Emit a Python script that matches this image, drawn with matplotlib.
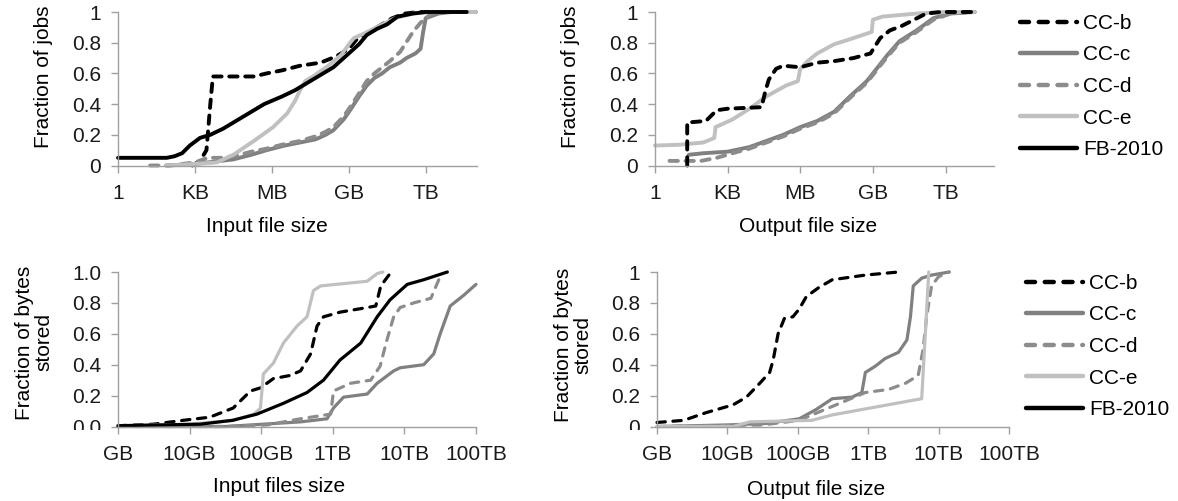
import numpy as np
import matplotlib.pyplot as plt
from matplotlib.lines import Line2D
from matplotlib.ticker import NullLocator
from matplotlib.transforms import Bbox, TransformedBbox

plt.rcParams['font.family'] = ['Liberation Sans', 'DejaVu Sans']
plt.rcParams['font.size'] = 15
plt.rcParams['lines.scale_dashes'] = False

# =====================
# Data: (log10 of size in bytes, cumulative fraction)
# =====================
names = ['CC-b', 'CC-c', 'CC-d', 'CC-e', 'FB-2010']

# Input file size -> fraction of jobs
jobs_in_ccb = [(2.9, 0.0), (3.2, 0.03), (3.45, 0.10), (3.6, 0.40), (3.7, 0.58), (4.5, 0.58), (5.3, 0.58),
               (5.8, 0.60), (6.4, 0.62), (7.1, 0.65), (7.9, 0.67), (8.5, 0.71), (9.0, 0.76), (9.3, 0.82),
               (9.7, 0.86), (10.2, 0.91), (10.7, 0.96), (11.2, 0.99), (11.7, 1.0), (13.6, 1.0)]
jobs_in_ccc = [(1.9, 0.0), (3.0, 0.01), (4.0, 0.03), (4.5, 0.04), (5.2, 0.07), (5.8, 0.10), (6.5, 0.13),
               (7.1, 0.15), (7.7, 0.17), (8.1, 0.20), (8.4, 0.23), (8.8, 0.30), (9.05, 0.36), (9.4, 0.45),
               (9.7, 0.52), (10.0, 0.57), (10.3, 0.60), (10.6, 0.64), (11.0, 0.67), (11.25, 0.70),
               (11.6, 0.73), (11.8, 0.76), (11.9, 0.87), (12.0, 0.96), (12.5, 0.99), (13.0, 1.0), (13.95, 1.0)]
jobs_in_ccd = [(1.25, 0.0), (2.0, 0.0), (3.0, 0.02), (3.5, 0.05), (4.0, 0.05), (4.5, 0.06), (5.2, 0.09),
               (5.8, 0.11), (6.5, 0.14), (7.1, 0.16), (7.7, 0.19), (8.1, 0.22), (8.4, 0.25), (8.8, 0.32),
               (9.05, 0.38), (9.4, 0.47), (9.7, 0.55), (10.0, 0.60), (10.3, 0.64), (10.6, 0.68),
               (11.0, 0.74), (11.5, 0.87), (11.8, 0.93), (12.0, 0.96), (12.3, 1.0), (13.95, 1.0)]
jobs_in_cce = [(1.9, 0.0), (3.0, 0.01), (3.85, 0.02), (4.5, 0.07), (5.3, 0.16), (6.05, 0.25), (6.6, 0.34),
               (6.9, 0.42), (7.1, 0.49), (7.3, 0.55), (7.6, 0.58), (8.2, 0.65), (8.7, 0.72), (9.05, 0.80),
               (9.2, 0.83), (9.6, 0.86), (10.2, 0.91), (10.8, 0.96), (11.5, 0.99), (12.2, 1.0), (13.95, 1.0)]
jobs_in_fb = [(0.0, 0.05), (1.9, 0.05), (2.2, 0.06), (2.5, 0.08), (2.8, 0.13), (3.2, 0.18), (3.6, 0.20),
              (4.1, 0.24), (4.6, 0.29), (5.1, 0.34), (5.7, 0.40), (6.4, 0.45), (6.9, 0.49), (7.4, 0.54),
              (7.9, 0.59), (8.4, 0.64), (9.0, 0.73), (9.4, 0.79), (9.7, 0.85), (10.1, 0.89), (10.5, 0.92),
              (10.9, 0.97), (11.5, 0.99), (12.0, 1.0), (13.6, 1.0)]

# Output file size -> fraction of jobs
jobs_out_ccb = [(1.33, 0.0), (1.33, 0.28), (2.1, 0.29), (2.55, 0.36), (3.0, 0.37), (4.4, 0.38), (4.55, 0.48),
                (4.7, 0.56), (5.0, 0.63), (5.3, 0.65), (6.0, 0.64), (6.7, 0.67), (7.4, 0.68), (8.2, 0.70),
                (8.9, 0.73), (9.3, 0.83), (9.7, 0.88), (10.2, 0.91), (10.7, 0.95), (11.2, 0.99),
                (11.8, 1.0), (13.2, 1.0)]
jobs_out_ccc = [(1.4, 0.07), (2.0, 0.08), (3.0, 0.09), (3.9, 0.12), (4.6, 0.16), (5.3, 0.20), (6.0, 0.25),
                (6.7, 0.29), (7.4, 0.35), (8.05, 0.45), (8.75, 0.55), (9.15, 0.63), (9.6, 0.72),
                (10.1, 0.81), (10.8, 0.88), (11.5, 0.96), (12.2, 0.99), (13.2, 1.0)]
jobs_out_ccd = [(0.6, 0.03), (1.3, 0.03), (1.9, 0.03), (2.55, 0.05), (3.2, 0.08), (3.9, 0.11), (4.6, 0.15),
                (5.3, 0.19), (6.0, 0.24), (6.7, 0.28), (7.4, 0.34), (8.05, 0.44), (8.75, 0.54),
                (9.15, 0.62), (9.6, 0.71), (10.1, 0.80), (10.8, 0.87), (11.5, 0.95), (12.2, 0.99), (13.2, 1.0)]
jobs_out_cce = [(0.0, 0.13), (1.0, 0.135), (2.0, 0.15), (2.3, 0.17), (2.45, 0.18), (2.5, 0.25), (3.2, 0.30),
                (3.9, 0.37), (4.6, 0.45), (5.4, 0.52), (5.9, 0.55), (6.0, 0.63), (6.3, 0.68), (6.7, 0.73),
                (7.4, 0.79), (8.0, 0.82), (8.95, 0.87), (9.0, 0.95), (9.4, 0.97), (10.8, 0.99),
                (12.0, 1.0), (13.2, 1.0)]

# Input files size -> fraction of bytes stored
bytes_in_ccb = [(9.0, 0.005), (9.5, 0.015), (9.91, 0.04), (10.28, 0.06), (10.61, 0.12), (10.85, 0.23),
                (10.99, 0.25), (11.17, 0.31), (11.4, 0.33), (11.55, 0.36), (11.69, 0.47), (11.78, 0.65),
                (11.87, 0.71), (12.1, 0.74), (12.48, 0.77), (12.6, 0.78), (12.67, 0.91), (12.8, 0.99),
                (12.85, 1.0)]
bytes_in_ccc = [(9.0, 0.0), (10.5, 0.0), (11.55, 0.03), (11.92, 0.05), (12.01, 0.12), (12.15, 0.19),
                (12.48, 0.21), (12.62, 0.28), (12.85, 0.36), (12.94, 0.38), (13.27, 0.40), (13.41, 0.47),
                (13.5, 0.60), (13.64, 0.78), (13.83, 0.85), (14.0, 0.92)]
bytes_in_ccd = [(9.0, 0.0), (10.5, 0.0), (11.08, 0.01), (11.55, 0.05), (11.97, 0.08), (12.01, 0.23),
                (12.25, 0.28), (12.53, 0.30), (12.66, 0.39), (12.75, 0.55), (12.85, 0.71), (12.94, 0.77),
                (13.13, 0.80), (13.37, 0.83), (13.48, 0.95)]
bytes_in_cce = [(9.0, 0.005), (10.0, 0.015), (10.61, 0.04), (10.9, 0.08), (10.99, 0.12), (11.03, 0.34),
                (11.17, 0.41), (11.31, 0.54), (11.5, 0.65), (11.64, 0.71), (11.73, 0.88), (11.83, 0.91),
                (12.48, 0.94), (12.62, 0.99), (12.7, 1.0)]
bytes_in_fb = [(9.0, 0.005), (10.15, 0.015), (10.6, 0.04), (10.94, 0.08), (11.31, 0.15), (11.64, 0.22),
               (11.87, 0.30), (12.1, 0.43), (12.39, 0.54), (12.62, 0.71), (12.8, 0.82), (13.04, 0.92),
               (13.27, 0.95), (13.6, 1.0)]

# Output file size -> fraction of bytes stored
bytes_out_ccb = [(9.0, 0.026), (9.38, 0.04), (9.7, 0.09), (10.08, 0.14), (10.27, 0.19), (10.46, 0.28),
                 (10.6, 0.35), (10.65, 0.43), (10.72, 0.60), (10.81, 0.70), (10.93, 0.71), (11.02, 0.76),
                 (11.12, 0.84), (11.3, 0.90), (11.49, 0.95), (11.96, 0.98), (12.43, 1.0)]
bytes_out_ccc = [(9.0, 0.0), (10.0, 0.01), (10.55, 0.02), (11.02, 0.05), (11.26, 0.11), (11.49, 0.18),
                 (11.77, 0.19), (11.91, 0.22), (11.96, 0.35), (12.1, 0.39), (12.24, 0.44), (12.43, 0.48),
                 (12.55, 0.56), (12.6, 0.71), (12.64, 0.91), (12.76, 0.96), (12.9, 0.98), (13.15, 1.0)]
bytes_out_ccd = [(9.0, 0.0), (10.5, 0.01), (11.02, 0.04), (11.49, 0.13), (11.96, 0.22), (12.29, 0.24),
                 (12.53, 0.28), (12.71, 0.33), (12.78, 0.50), (12.83, 0.71), (12.9, 0.91), (13.0, 0.97),
                 (13.15, 1.0)]
bytes_out_cce = [(9.0, 0.0), (10.08, 0.0), (10.32, 0.03), (11.2, 0.04), (11.49, 0.075), (12.76, 0.18),
                 (12.86, 1.0)]

jobs_ticks = [1, 1e3, 1e6, 1e9, 1e12]
jobs_ticklabels = ['1', 'KB', 'MB', 'GB', 'TB']
bytes_ticks = [1e9, 1e10, 1e11, 1e12, 1e13, 1e14]
bytes_ticklabels = ['GB', '10GB', '100GB', '1TB', '10TB', '100TB']
y_ticks = [0, 0.2, 0.4, 0.6, 0.8, 1.0]
y_labels_a = ['0', '0.2', '0.4', '0.6', '0.8', '1']
y_labels_b = ['0.0', '0.2', '0.4', '0.6', '0.8', '1.0']

# =====================
# Styles
# =====================
styles = {
    'CC-b': dict(color='black', dashes=(6, 5.5)),
    'CC-c': dict(color='#808080'),
    'CC-d': dict(color='#8c8c8c', dashes=(6, 5.5)),
    'CC-e': dict(color='#c0c0c0'),
    'FB-2010': dict(color='black'),
}
axis_gray = '#a0a0a0'

W, H = 1178, 501
fig = plt.figure(figsize=(W / 100, H / 100), dpi=100)

ax1 = fig.add_axes([118 / W, 1 - 165.5 / H, 359 / W, 153.5 / H])
ax2 = fig.add_axes([655 / W, 1 - 165.5 / H, 339 / W, 153.5 / H])
ax3 = fig.add_axes([118 / W, 1 - 426.5 / H, 358 / W, 154.5 / H])
ax4 = fig.add_axes([657 / W, 1 - 426.5 / H, 352 / W, 154.5 / H])


def draw_series(ax, series, lw):
    for name, pts in series:
        pts = np.array(pts)
        st = styles[name]
        kw = dict(color=st['color'], lw=lw, solid_capstyle='round', dash_capstyle='round', clip_on=False)
        if 'dashes' in st:
            kw['dashes'] = st['dashes']
        ax.plot(10 ** pts[:, 0], pts[:, 1], **kw)


def setup(ax, xlim, xticks, xticklabels, yticklabels, xlabel, ylabel, xlab_pos, ylab_pos, clip_zero=False):
    ax.set_xscale('log')
    ax.set_xlim(*xlim)
    ax.set_ylim(0, 1)
    ax.set_xticks(xticks)
    ax.set_xticklabels(xticklabels)
    ax.xaxis.set_minor_locator(NullLocator())
    ax.set_yticks(y_ticks)
    ax.set_yticklabels(yticklabels)
    for s in ['top', 'right']:
        ax.spines[s].set_visible(False)
    for s in ['left', 'bottom']:
        ax.spines[s].set_color(axis_gray)
        ax.spines[s].set_linewidth(1.0)
    ax.tick_params(color=axis_gray, length=5, width=1, labelcolor='#1a1a1a')
    ax.tick_params(axis='x', pad=8)
    ax.tick_params(axis='y', pad=7)
    ax.set_xlabel(xlabel)
    ax.xaxis.set_label_coords(*xlab_pos)
    ax.set_ylabel(ylabel, linespacing=1.0)
    ax.yaxis.set_label_coords(*ylab_pos)
    if clip_zero:
        # the "0" label is cut at the bottom in the original
        clip = TransformedBbox(Bbox([[0, (H - 430) / H], [1, 1]]), fig.transFigure)
        lab = ax.yaxis.get_major_ticks()[0].label1
        lab.set_clip_box(clip)
        lab.set_clip_on(True)


draw_series(ax1, [('CC-b', jobs_in_ccb), ('CC-c', jobs_in_ccc), ('CC-d', jobs_in_ccd),
                  ('CC-e', jobs_in_cce), ('FB-2010', jobs_in_fb)], 2.8)
draw_series(ax2, [('CC-c', jobs_out_ccc), ('CC-d', jobs_out_ccd), ('CC-e', jobs_out_cce),
                  ('CC-b', jobs_out_ccb)], 2.8)
draw_series(ax3, [('CC-b', bytes_in_ccb), ('CC-c', bytes_in_ccc), ('CC-d', bytes_in_ccd),
                  ('CC-e', bytes_in_cce), ('FB-2010', bytes_in_fb)], 2.3)
draw_series(ax4, [('CC-b', bytes_out_ccb), ('CC-c', bytes_out_ccc), ('CC-d', bytes_out_ccd),
                  ('CC-e', bytes_out_cce)], 2.3)

setup(ax1, (1, 1e14), jobs_ticks, jobs_ticklabels, y_labels_a, 'Input file size', 'Fraction of jobs',
      (0.415, -0.335), (-0.181, 0.58))
setup(ax2, (1, 1e14), jobs_ticks, jobs_ticklabels, y_labels_a, 'Output file size', 'Fraction of jobs',
      (0.451, -0.335), (-0.221, 0.58))
setup(ax3, (1e9, 1e14), bytes_ticks, bytes_ticklabels, y_labels_b, 'Input files size',
      'Fraction of bytes\nstored', (0.45, -0.327), (-0.1816, 0.544), clip_zero=True)
setup(ax4, (1e9, 1e14), bytes_ticks, bytes_ticklabels, y_labels_a, 'Output file size',
      'Fraction of bytes\nstored', (0.452, -0.346), (-0.1847, 0.53), clip_zero=True)

# =====================
# Legends
# =====================
def legend_handles():
    hs = []
    for name in names:
        st = styles[name]
        kw = dict(color=st['color'], lw=3.2, solid_capstyle='round', dash_capstyle='round')
        if 'dashes' in st:
            kw['dashes'] = (6.5, 7)
        hs.append(Line2D([], [], **kw))
    return hs


leg_kw = dict(loc='upper left', frameon=False, borderpad=0, borderaxespad=0, handlelength=2.75,
              handletextpad=0.29, labelspacing=0.6, fontsize=15)
fig.legend(legend_handles(), names, bbox_to_anchor=(1020 / W, 1 - 14 / H), **leg_kw)
fig.legend(legend_handles(), names, bbox_to_anchor=(1026 / W, 1 - 274 / H), **leg_kw)

fig.savefig('out.png', dpi=100)
